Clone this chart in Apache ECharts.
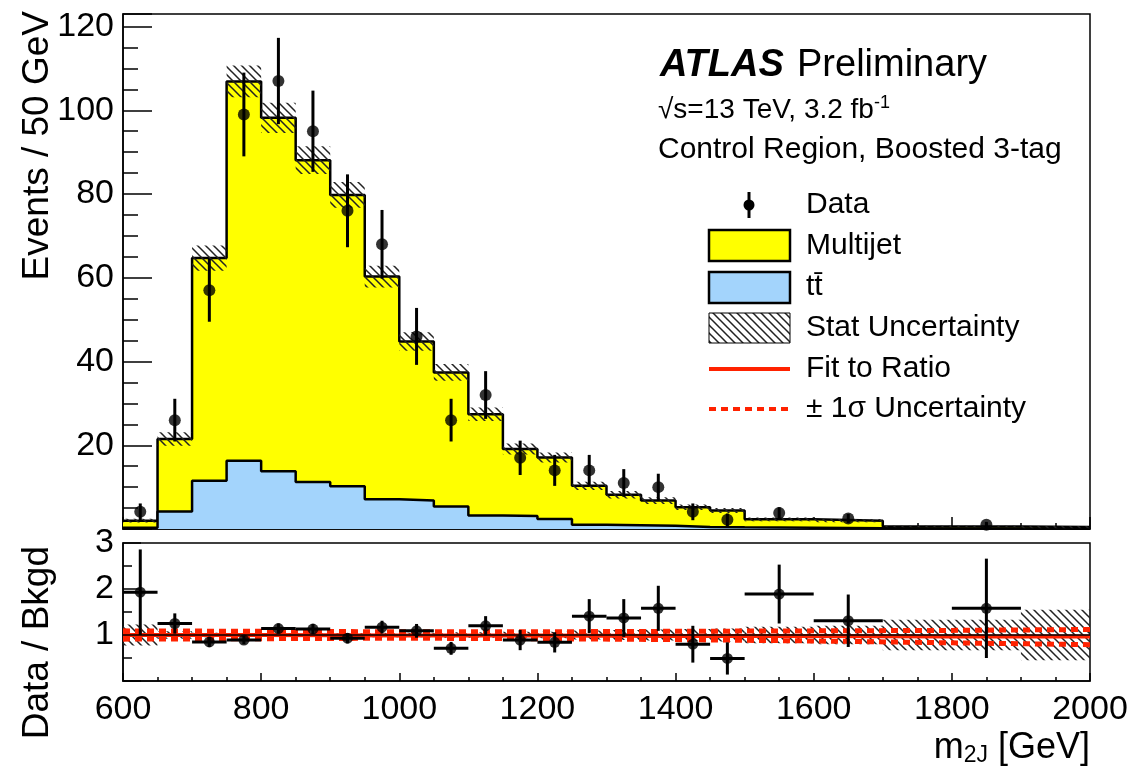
<!DOCTYPE html>
<html lang="en">
<head>
<meta charset="UTF-8">
<title>m2J control region</title>
<script src="https://cdn.jsdelivr.net/npm/echarts@6/dist/echarts.min.js"></script>
<style>html,body{margin:0;padding:0;background:#fff}</style>
</head>
<body>
<div id="main" style="width:1137px;height:767px"></div>
<script>
// bin edges in GeV (24 edges -> 23 bins)
let binEdges = [600,650,700,750,800,850,900,950,1000,1050,1100,1150,1200,1250,1300,1350,1400,1450,1500,1600,1700,1800,1900,2000];
// background per bin (events / 50 GeV)
let ttbar    = [0.3,4.2,11.5,16.3,13.8,11.2,10.2,7.1,6.8,5.4,3.2,3.1,2.4,1.0,0.9,0.8,0.5,0.4,0.3,0.2,0.1,0.1,0.05];
let multijet = [1.7,17.3,53.2,90.6,84.4,76.9,69.6,53.2,38.0,32.0,24.2,16.0,14.7,9.3,7.3,6.0,4.7,4.0,2.0,1.8,0.5,0.5,0.4];
let statErr  = [0.45,1.6,3.0,3.8,3.6,3.3,3.1,2.6,2.2,2.0,1.6,1.3,1.2,1.0,0.9,0.8,0.65,0.6,0.45,0.4,0.2,0.2,0.25];
let ratioBand = [0.23,0.08,0.05,0.04,0.04,0.04,0.04,0.05,0.05,0.06,0.06,0.07,0.07,0.1,0.11,0.12,0.13,0.14,0.18,0.2,0.33,0.33,0.55];

// data points
let dataX    = [625,675,725,775,825,875,925,975,1025,1075,1125,1175,1225,1275,1325,1375,1425,1475,1550,1650,1850];
let dataXErr = [25,25,25,25,25,25,25,25,25,25,25,25,25,25,25,25,25,25,50,50,50];
let dataY    = [4.1,26,57,99,107,95,76,68,46,26,32,17,14,14,11,10,4.1,2.2,3.8,2.5,1.0];
let dataErr  = [2.0,5.1,7.5,10,10.3,9.7,8.7,8.2,6.8,5.1,5.7,4.1,3.7,3.7,3.3,3.2,2.0,1.5,1.4,1.1,0.7];
let ratioY   = [1.93,1.25,0.85,0.89,1.14,1.13,0.93,1.17,1.09,0.71,1.2,0.89,0.84,1.41,1.37,1.58,0.8,0.49,1.89,1.31,1.58];
let ratioErr = [0.93,0.22,0.11,0.09,0.11,0.11,0.11,0.14,0.15,0.14,0.21,0.22,0.22,0.37,0.41,0.49,0.4,0.35,0.64,0.57,1.08];

// fit to ratio and its 1 sigma band
let fitX    = [600,800,1000,1200,1400,1600,1800,2000];
let fitY    = [1.0,1.0,0.99,0.99,0.98,0.98,0.97,0.97];
let fitUp   = [1.09,1.08,1.07,1.07,1.08,1.09,1.10,1.12];
let fitDown = [0.91,0.92,0.93,0.92,0.90,0.87,0.83,0.79];

const FONT = '"Liberation Sans", Arial, Helvetica, sans-serif';
const RED = '#ff2200';
const YELLOW = '#ffff00';
const BLUE = '#a3d4fc';

function makeHatch() {
    let c = document.createElement('canvas');
    c.width = 8; c.height = 8;
    let g = c.getContext('2d');
    g.strokeStyle = '#222';
    g.lineWidth = 1.5;
    g.beginPath();
    g.moveTo(-8, 0); g.lineTo(8, 16);
    g.moveTo(-1, -1); g.lineTo(9, 9);
    g.moveTo(0, -8); g.lineTo(16, 8);
    g.stroke();
    return c;
}
let hatch = {image: makeHatch(), repeat: 'repeat'};

let nBins = binEdges.length - 1;
// step outline: one point per lower edge, plus the closing edge at 2000
let stepData = arr => binEdges.map((e, i) => [e, arr[Math.min(i, nBins - 1)]]);
let stackTop = ttbar.map((t, i) => t + multijet[i]);
let bandMain = [], bandRatio = [];
for (let i = 0; i < nBins; i++) {
    bandMain.push([binEdges[i], binEdges[i + 1], stackTop[i], statErr[i]]);
    bandRatio.push([binEdges[i], binEdges[i + 1], 1, ratioBand[i]]);
}

function bandItem(params, api) {
    let p1 = api.coord([api.value(0), api.value(2) + api.value(3)]);
    let p2 = api.coord([api.value(1), api.value(2) - api.value(3)]);
    return {
        type: 'rect',
        shape: {x: p1[0], y: p1[1], width: p2[0] - p1[0], height: p2[1] - p1[1]},
        style: {fill: hatch, stroke: null}
    };
}
function vErrItem(params, api) {
    let x = api.value(0), y = api.value(1), e = api.value(2);
    let lo = api.coord([x, y - e]), hi = api.coord([x, y + e]);
    return {type: 'line', shape: {x1: lo[0], y1: lo[1], x2: hi[0], y2: hi[1]}, style: {stroke: '#000', lineWidth: 3}};
}
function crossItem(params, api) {
    let x = api.value(0), y = api.value(1), e = api.value(2), xe = api.value(3);
    let lo = api.coord([x, y - e]), hi = api.coord([x, y + e]);
    let l = api.coord([x - xe, y]), r = api.coord([x + xe, y]);
    return {type: 'group', children: [
        {type: 'line', shape: {x1: lo[0], y1: lo[1], x2: hi[0], y2: hi[1]}, style: {stroke: '#000', lineWidth: 3}},
        {type: 'line', shape: {x1: l[0], y1: l[1], x2: r[0], y2: r[1]}, style: {stroke: '#000', lineWidth: 3}}
    ]};
}

let axisLine = {show: true, onZero: false, lineStyle: {color: '#000', width: 1.5}};
let labelStyle = {color: '#000', fontFamily: FONT, fontSize: 34};

let option = {
    animation: false,
    backgroundColor: '#fff',
    grid: [
        {left: 123, top: 14, right: 47, height: 515, show: true, borderColor: '#000', borderWidth: 1.5, backgroundColor: 'transparent'},
        {left: 123, top: 543, right: 47, height: 138, show: true, borderColor: '#000', borderWidth: 1.5, backgroundColor: 'transparent'},
        // same box as the main panel, only carries the 5-event minor ticks
        {left: 123, top: 14, right: 47, height: 515, show: false}
    ],
    xAxis: [
        {gridIndex: 0, type: 'value', min: 600, max: 2000, interval: 200,
         axisLine, splitLine: {show: false}, axisLabel: {show: false},
         axisTick: {inside: true, length: 12, lineStyle: {color: '#000', width: 1.5}},
         minorTick: {show: true, splitNumber: 4, length: 6, lineStyle: {color: '#000', width: 1.5}}},
        {gridIndex: 1, type: 'value', min: 600, max: 2000, interval: 200,
         axisLine, splitLine: {show: false},
         axisLabel: Object.assign({margin: 12, formatter: v => String(v)}, labelStyle),
         axisTick: {inside: true, length: 8, lineStyle: {color: '#000', width: 1.5}},
         minorTick: {show: true, splitNumber: 4, length: 4, lineStyle: {color: '#000', width: 1.5}}},
        {gridIndex: 2, type: 'value', min: 600, max: 2000, show: false}
    ],
    yAxis: [
        {gridIndex: 0, type: 'value', min: 0, max: 123, interval: 20,
         axisLine, splitLine: {show: false},
         axisLabel: Object.assign({margin: 9, formatter: v => (v > 0 && v % 20 === 0) ? String(v) : ''}, labelStyle),
         axisTick: {inside: true, length: 29, lineStyle: {color: '#000', width: 1.5}}},
        {gridIndex: 1, type: 'value', min: 0, max: 3, interval: 1,
         axisLine, splitLine: {show: false},
         axisLabel: Object.assign({margin: 9, formatter: v => v > 0 ? String(v) : ''}, labelStyle),
         axisTick: {inside: true, length: 18, lineStyle: {color: '#000', width: 1.5}},
         minorTick: {show: true, splitNumber: 2, length: 9, lineStyle: {color: '#000', width: 1.5}}},
        {gridIndex: 2, type: 'value', position: 'left', min: 0, max: 123, interval: 5,
         axisLine: {show: false}, splitLine: {show: false}, axisLabel: {show: false},
         axisTick: {inside: true, length: 15, lineStyle: {color: '#000', width: 1.5}}}
    ],
    series: [
        // multijet drawn on top of ttbar: its outline is the summed background
        {name: 'Multijet', type: 'line', xAxisIndex: 0, yAxisIndex: 0, step: 'end', z: 2,
         showSymbol: false, data: stepData(stackTop), lineStyle: {color: '#000', width: 2.5}, areaStyle: {color: YELLOW, opacity: 1}},
        {name: 'ttbar', type: 'line', xAxisIndex: 0, yAxisIndex: 0, step: 'end', z: 3,
         showSymbol: false, data: stepData(ttbar), lineStyle: {color: '#000', width: 2.5}, areaStyle: {color: BLUE, opacity: 1}},
        {name: 'Stat', type: 'custom', xAxisIndex: 0, yAxisIndex: 0, z: 4, clip: true,
         renderItem: bandItem, data: bandMain},
        {name: 'DataErr', type: 'custom', xAxisIndex: 0, yAxisIndex: 0, z: 6, clip: true,
         renderItem: vErrItem, data: dataX.map((x, i) => [x, dataY[i], dataErr[i]])},
        {name: 'Data', type: 'scatter', xAxisIndex: 0, yAxisIndex: 0, z: 7, symbolSize: 12,
         itemStyle: {color: '#000'}, data: dataX.map((x, i) => [x, dataY[i]])},

        {name: 'RatioStat', type: 'custom', xAxisIndex: 1, yAxisIndex: 1, z: 2, clip: true,
         renderItem: bandItem, data: bandRatio},
        {name: 'FitUp', type: 'line', xAxisIndex: 1, yAxisIndex: 1, z: 3, showSymbol: false,
         lineStyle: {color: RED, width: 5, type: [7, 5]}, data: fitX.map((x, i) => [x, fitUp[i]])},
        {name: 'FitDown', type: 'line', xAxisIndex: 1, yAxisIndex: 1, z: 3, showSymbol: false,
         lineStyle: {color: RED, width: 5, type: [7, 5]}, data: fitX.map((x, i) => [x, fitDown[i]])},
        {name: 'Fit', type: 'line', xAxisIndex: 1, yAxisIndex: 1, z: 4, showSymbol: false,
         lineStyle: {color: RED, width: 4}, data: fitX.map((x, i) => [x, fitY[i]]),
         markLine: {silent: true, symbol: 'none', label: {show: false},
                    lineStyle: {color: '#000', width: 1.5, type: 'solid'}, data: [{yAxis: 1}]}},
        {name: 'RatioErr', type: 'custom', xAxisIndex: 1, yAxisIndex: 1, z: 6, clip: true,
         renderItem: crossItem, data: dataX.map((x, i) => [x, ratioY[i], ratioErr[i], dataXErr[i]])},
        {name: 'Ratio', type: 'scatter', xAxisIndex: 1, yAxisIndex: 1, z: 7, symbolSize: 11,
         itemStyle: {color: '#000'}, data: dataX.map((x, i) => [x, ratioY[i]])}
    ],
    graphic: [
        {type: 'text', x: 38, y: 11, rotation: Math.PI / 2,
         style: {text: 'Events / 50 GeV', align: 'right', verticalAlign: 'middle', font: '37px ' + FONT, fill: '#000'}},
        {type: 'text', x: 38, y: 546, rotation: Math.PI / 2,
         style: {text: 'Data / Bkgd', align: 'right', verticalAlign: 'middle', font: '37px ' + FONT, fill: '#000'}},
        {type: 'text', x: 1090, y: 748,
         style: {text: '{a|m}{s|2J}{a| [GeV]}', align: 'right', verticalAlign: 'middle', fill: '#000',
                 rich: {a: {fontFamily: FONT, fontSize: 36}, s: {fontFamily: FONT, fontSize: 23, padding: [16, 0, 0, 0]}}}},

        {type: 'text', x: 660, y: 66,
         style: {text: 'ATLAS', verticalAlign: 'middle', font: 'italic bold 38px ' + FONT, fill: '#000'}},
        {type: 'text', x: 797, y: 66,
         style: {text: 'Preliminary', verticalAlign: 'middle', font: '38px ' + FONT, fill: '#000'}},
        {type: 'text', x: 658, y: 110,
         style: {text: '{a|\u221As=13 TeV, 3.2 fb}{s|-1}', verticalAlign: 'middle', fill: '#000',
                 rich: {a: {fontFamily: FONT, fontSize: 28}, s: {fontFamily: FONT, fontSize: 18, padding: [0, 0, 14, 0]}}}},
        {type: 'text', x: 658, y: 150,
         style: {text: 'Control Region, Boosted 3-tag', verticalAlign: 'middle', font: '30px ' + FONT, fill: '#000'}},

        // legend
        {type: 'line', shape: {x1: 749, y1: 192, x2: 749, y2: 218}, style: {stroke: '#000', lineWidth: 3}},
        {type: 'circle', shape: {cx: 749, cy: 205, r: 5.5}, style: {fill: '#000'}},
        {type: 'text', x: 806, y: 205, style: {text: 'Data', verticalAlign: 'middle', font: '30px ' + FONT, fill: '#000'}},
        {type: 'rect', shape: {x: 709, y: 230, width: 81, height: 31}, style: {fill: YELLOW, stroke: '#000', lineWidth: 2.5}},
        {type: 'text', x: 806, y: 246, style: {text: 'Multijet', verticalAlign: 'middle', font: '30px ' + FONT, fill: '#000'}},
        {type: 'rect', shape: {x: 709, y: 272, width: 81, height: 31}, style: {fill: BLUE, stroke: '#000', lineWidth: 2.5}},
        {type: 'text', x: 806, y: 287, style: {text: 'tt\u0304', verticalAlign: 'middle', font: '30px ' + FONT, fill: '#000'}},
        {type: 'rect', shape: {x: 709, y: 313, width: 81, height: 30}, style: {fill: hatch, stroke: '#000', lineWidth: 1}},
        {type: 'text', x: 806, y: 328, style: {text: 'Stat Uncertainty', verticalAlign: 'middle', font: '30px ' + FONT, fill: '#000'}},
        {type: 'line', shape: {x1: 709, y1: 369, x2: 790, y2: 369}, style: {stroke: RED, lineWidth: 4}},
        {type: 'text', x: 806, y: 369, style: {text: 'Fit to Ratio', verticalAlign: 'middle', font: '30px ' + FONT, fill: '#000'}},
        {type: 'line', shape: {x1: 709, y1: 409, x2: 790, y2: 409}, style: {stroke: RED, lineWidth: 4, lineDash: [7, 5]}},
        {type: 'text', x: 806, y: 409, style: {text: '\u00B1 1\u03C3 Uncertainty', verticalAlign: 'middle', font: '30px ' + FONT, fill: '#000'}}
    ]
};

let myChart = echarts.init(document.getElementById('main'));
myChart.setOption(option);
</script>
</body>
</html>
